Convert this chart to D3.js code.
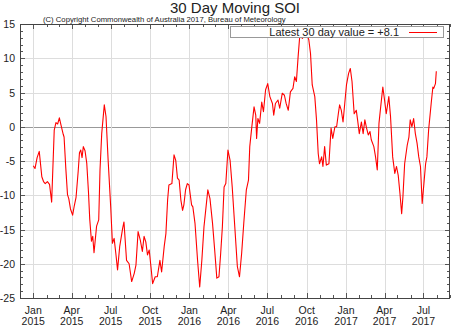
<!DOCTYPE html>
<html lang="en">
<head>
<meta charset="UTF-8">
<title>30 Day Moving SOI</title>
<script src="https://cdn.jsdelivr.net/npm/d3@7"></script>
<style>
    body { margin: 0; background: #fff; }
    svg text { font-family: "Liberation Sans", Arial, sans-serif; fill: #222; }
</style>
</head>
<body>
<div id="chart"></div>
<script>
    // SOI readings
    const dates = [
        "2015-01-01","2015-01-05","2015-01-10","2015-01-15","2015-01-21","2015-01-25","2015-01-29","2015-02-03",
        "2015-02-08","2015-02-13","2015-02-19","2015-02-23","2015-02-27","2015-03-03","2015-03-07","2015-03-12",
        "2015-03-14","2015-03-18","2015-03-22","2015-03-25","2015-03-29","2015-04-03","2015-04-07","2015-04-11",
        "2015-04-16","2015-04-19","2015-04-22","2015-04-25","2015-04-28","2015-05-02","2015-05-06","2015-05-10",
        "2015-05-13","2015-05-17","2015-05-20","2015-05-23","2015-05-29","2015-06-03","2015-06-06","2015-06-10",
        "2015-06-16","2015-06-20","2015-06-25","2015-07-01","2015-07-05","2015-07-09","2015-07-13","2015-07-17",
        "2015-07-22","2015-07-29","2015-08-01","2015-08-07","2015-08-13","2015-08-19","2015-08-25","2015-08-29",
        "2015-09-03","2015-09-08","2015-09-13","2015-09-17","2015-09-21","2015-09-25","2015-09-29","2015-10-03",
        "2015-10-07","2015-10-13","2015-10-18","2015-10-24","2015-10-28","2015-11-03","2015-11-07","2015-11-11",
        "2015-11-14","2015-11-21","2015-11-26","2015-11-30","2015-12-04","2015-12-08","2015-12-12","2015-12-16",
        "2015-12-19","2015-12-23","2015-12-27","2015-12-31","2016-01-06","2016-01-09","2016-01-14","2016-01-20",
        "2016-01-25","2016-01-30","2016-02-04","2016-02-08","2016-02-13","2016-02-18","2016-02-24","2016-02-29",
        "2016-03-05","2016-03-10","2016-03-14","2016-03-18","2016-03-22","2016-03-26","2016-03-31","2016-04-05",
        "2016-04-10","2016-04-16","2016-04-22","2016-04-27","2016-05-02","2016-05-07","2016-05-13","2016-05-18",
        "2016-05-21","2016-05-25","2016-05-31","2016-06-04","2016-06-06","2016-06-09","2016-06-13","2016-06-18",
        "2016-06-22","2016-06-27","2016-07-02","2016-07-07","2016-07-13","2016-07-16","2016-07-20","2016-07-26",
        "2016-07-30","2016-08-05","2016-08-10","2016-08-14","2016-08-19","2016-08-24","2016-08-30","2016-09-03",
        "2016-09-07","2016-09-11","2016-09-15","2016-09-21","2016-09-26","2016-10-02","2016-10-06","2016-10-10",
        "2016-10-14","2016-10-20","2016-10-24","2016-10-28","2016-10-31","2016-11-05","2016-11-08","2016-11-12",
        "2016-11-16","2016-11-22","2016-11-27","2016-12-01","2016-12-06","2016-12-10","2016-12-14","2016-12-17",
        "2016-12-21","2016-12-25","2016-12-29","2017-01-02","2017-01-07","2017-01-11","2017-01-15","2017-01-20",
        "2017-01-25","2017-01-28","2017-02-01","2017-02-06","2017-02-10","2017-02-14","2017-02-18","2017-02-22",
        "2017-02-26","2017-03-01","2017-03-07","2017-03-11","2017-03-15","2017-03-17","2017-03-19","2017-03-23",
        "2017-03-28","2017-04-01","2017-04-05","2017-04-11","2017-04-15","2017-04-20","2017-04-25","2017-04-29",
        "2017-05-03","2017-05-07","2017-05-11","2017-05-14","2017-05-18","2017-05-24","2017-05-28","2017-05-31",
        "2017-06-04","2017-06-08","2017-06-12","2017-06-16","2017-06-20","2017-06-24","2017-06-28","2017-07-02",
        "2017-07-06","2017-07-09","2017-07-13","2017-07-19","2017-07-23","2017-07-25","2017-07-29","2017-07-31"
    ];
    const soi = [
        -5.7, -6.1, -4.5, -3.6, -7.3, -8.0, -8.3, -8.0,
        -8.4, -11.0, -0.5, 0.6, 0.4, 1.3, 0.2, -1.1,
        -1.5, -6.0, -9.9, -10.5, -12.0, -12.9, -11.5, -10.3,
        -6.5, -3.8, -3.4, -4.5, -2.9, -3.5, -5.3, -9.5,
        -13.5, -16.7, -16.0, -18.4, -14.5, -13.6, -6.3, -1.0,
        3.2, 1.5, -4.9, -11.7, -17.0, -16.3, -18.5, -20.9,
        -17.5, -14.8, -13.9, -19.5, -20.0, -22.6, -21.4, -20.2,
        -15.3, -16.5, -18.2, -16.0, -16.8, -18.7, -18.0, -20.4,
        -22.9, -21.9, -21.9, -19.5, -21.2, -17.5, -15.6, -10.7,
        -8.5, -8.3, -4.1, -4.9, -7.5, -7.8, -10.7, -12.2,
        -11.4, -9.2, -8.3, -8.5, -11.4, -11.7, -14.1, -19.5,
        -23.4, -19.5, -14.6, -12.2, -9.2, -10.5, -14.1, -18.0,
        -22.1, -21.9, -18.5, -14.6, -8.8, -8.3, -3.4, -4.9,
        -8.8, -14.6, -20.4, -21.9, -18.5, -14.1, -9.2, -7.8,
        -2.9, -0.5, 2.9, 1.7, -1.7, 1.2, 0.5, 3.6,
        2.2, 5.4, 6.3, 4.4, 3.4, 1.7, 3.4, 3.9,
        2.7, 4.9, 4.6, 3.4, 2.4, 5.1, 5.6, 7.3,
        6.6, 10.2, 13.4, 12.9, 13.4, 13.4, 12.7, 10.7,
        6.1, 4.4, 1.0, -3.9, -5.4, -4.4, -5.8, -2.9,
        -5.6, -5.4, -0.2, -1.7, 0.0, 0.0, 1.9, 3.2,
        2.4, 0.7, 3.4, 6.1, 7.8, 8.5, 6.6, 1.9,
        2.4, 1.0, -1.0, 0.7, -1.0, 1.0, -0.2, -1.2,
        -0.7, -1.9, -2.9, -4.4, -6.3, -3.0, 0.5, 2.9,
        5.8, 3.9, 1.9, 4.4, 1.5, -4.4, -6.8, -5.8,
        -7.1, -9.7, -12.7, -10.2, -5.4, -2.7, -1.5, 1.0,
        0.0, 1.2, -1.0, -2.4, -4.4, -5.8, -11.2, -8.3,
        -5.4, -4.4, -0.5, 3.4, 5.8, 5.6, 6.3, 8.1
    ];
    const yTicks = [15, 10, 5, 0, -5, -10, -15, -20, -25];
    const monthNames = ["Jan", "Apr", "Jul", "Oct"];
    const latest = "+8.1";

    const W = 455, H = 327;
    const mLeft = 20, mRight = 450, mTop = 24, mBottom = 298;
    const parse = d3.timeParse("%Y-%m-%d");
    const series = dates.map((d, i) => ({date: parse(d), v: soi[i]}));

    const svg = d3.select("#chart").append("svg")
        .attr("width", W).attr("height", H);

    const x = d3.scaleTime().domain([new Date(2014, 11, 1), new Date(2017, 8, 1)]).range([mLeft, mRight]);
    const y = d3.scaleLinear().domain([-25, 15]).range([mBottom, mTop]);

    const quarters = x.ticks(d3.timeMonth.every(3)).filter(d => d >= new Date(2015, 0, 1));
    const months = x.ticks(d3.timeMonth.every(1));
    const minorY = d3.range(-25, 16, 1);

    // grid
    svg.append("g").selectAll("line").data(yTicks).join("line")
        .attr("x1", mLeft).attr("x2", mRight)
        .attr("y1", d => Math.round(y(d)) + 0.5).attr("y2", d => Math.round(y(d)) + 0.5)
        .attr("stroke", d => d === 0 ? "#999" : "#ddd").attr("stroke-width", 1);
    svg.append("g").selectAll("line").data(quarters).join("line")
        .attr("x1", d => Math.round(x(d)) + 0.5).attr("x2", d => Math.round(x(d)) + 0.5)
        .attr("y1", mTop).attr("y2", mBottom)
        .attr("stroke", "#ddd").attr("stroke-width", 1);

    // minor and major ticks on all four sides, pointing inwards
    const tk = svg.append("g").attr("stroke", "#555").attr("stroke-width", 1);
    minorY.forEach(v => {
        const len = v % 5 === 0 ? 5 : 3;
        const yy = Math.round(y(v)) + 0.5;
        tk.append("line").attr("x1", mLeft).attr("x2", mLeft + len).attr("y1", yy).attr("y2", yy);
        tk.append("line").attr("x1", mRight - len).attr("x2", mRight).attr("y1", yy).attr("y2", yy);
    });
    months.forEach(d => {
        const len = d.getMonth() % 3 === 0 ? 5 : 3;
        const xx = Math.round(x(d)) + 0.5;
        tk.append("line").attr("x1", xx).attr("x2", xx).attr("y1", mBottom).attr("y2", mBottom - len);
        tk.append("line").attr("x1", xx).attr("x2", xx).attr("y1", mTop).attr("y2", mTop + len);
    });

    // frame
    svg.append("rect")
        .attr("x", mLeft + 0.5).attr("y", mTop + 0.5)
        .attr("width", mRight - mLeft - 1).attr("height", mBottom - mTop)
        .attr("fill", "none").attr("stroke", "#444").attr("stroke-width", 1);

    // y labels
    svg.append("g").selectAll("text").data(yTicks).join("text")
        .attr("x", mLeft - 5).attr("y", d => y(d) + 4)
        .attr("text-anchor", "end").style("font-size", "10.5px")
        .text(d => d);

    // x labels
    const xlab = svg.append("g").selectAll("text").data(quarters).join("text")
        .attr("text-anchor", "middle").style("font-size", "10.5px")
        .attr("transform", d => `translate(${x(d)},0)`);
    xlab.append("tspan").attr("x", 0).attr("y", 314).text(d => monthNames[d.getMonth() / 3]);
    xlab.append("tspan").attr("x", 0).attr("y", 325).text(d => d.getFullYear());

    // line
    const line = d3.line().x(d => x(d.date)).y(d => y(d.v));
    svg.append("path").datum(series)
        .attr("d", line)
        .attr("fill", "none").attr("stroke", "#f00").attr("stroke-width", 1.1)
        .attr("stroke-linejoin", "round");

    // titles
    svg.append("text").attr("x", 235).attr("y", 12.5)
        .attr("text-anchor", "middle").style("font-size", "15px")
        .text("30 Day Moving SOI");
    svg.append("text").attr("x", 43).attr("y", 22)
        .style("font-size", "7.7px")
        .text("(C) Copyright Commonwealth of Australia 2017, Bureau of Meteorology");

    // legend
    const lg = svg.append("g");
    lg.append("rect").attr("x", 230.5).attr("y", 26.5).attr("width", 213).attr("height", 11)
        .attr("fill", "#fff").attr("stroke", "#999");
    lg.append("text").attr("x", 399).attr("y", 36)
        .attr("text-anchor", "end").style("font-size", "11px")
        .text("Latest 30 day value = " + latest);
    lg.append("line").attr("x1", 409).attr("x2", 437).attr("y1", 32.5).attr("y2", 32.5)
        .attr("stroke", "#f00").attr("stroke-width", 1);
</script>
</body>
</html>
